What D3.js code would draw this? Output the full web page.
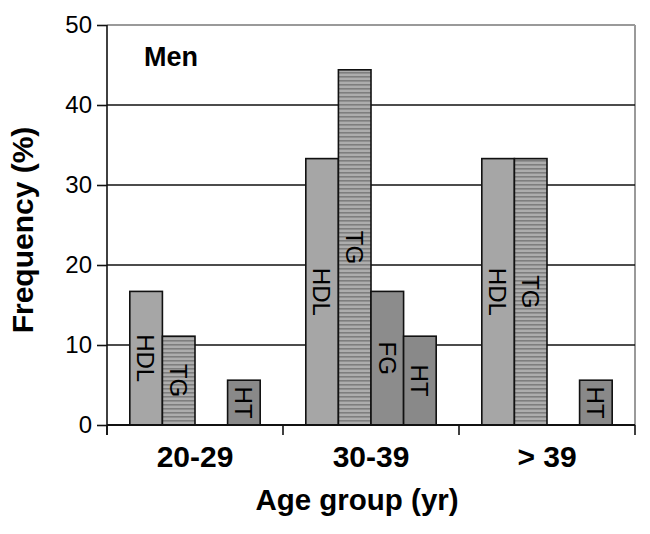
<!DOCTYPE html>
<html>
<head>
<meta charset="utf-8">
<script src="https://cdn.jsdelivr.net/npm/d3@7"></script>
<style>
  html, body { margin: 0; padding: 0; background: #fff; }
  svg { display: block; font-family: "Liberation Sans", Arial, sans-serif; }
</style>
</head>
<body>
<svg id="chart" width="650" height="534"></svg>
<script>
// ---- data ----
const categories = ["20-29", "30-39", "> 39"];
const seriesNames = ["HDL", "TG", "FG", "HT"];
const HDL = [16.7, 33.3, 33.3];
const TG  = [11.1, 44.4, 33.3];
const FG  = [0, 16.7, 0];
const HT  = [5.6, 11.1, 5.6];
const yTicks = [0, 10, 20, 30, 40, 50];
const yTitle = "Frequency (%)";
const xTitle = "Age group (yr)";
const panelLabel = "Men";

const seriesValues = { HDL, TG, FG, HT };

// ---- layout ----
const svg = d3.select("#chart");
const margin = { left: 107, right: 15, top: 25, bottom: 109 };
const W = 650, H = 534;
const x0 = margin.left, x1 = W - margin.right;
const yTop = margin.top, yBot = H - margin.bottom;

const x = d3.scaleBand().domain(categories).range([x0, x1]).paddingInner(0).paddingOuter(0);
const xs = d3.scaleBand().domain(seriesNames).range([0, x.bandwidth()]).paddingInner(0).paddingOuter(0.7);
const y = d3.scaleLinear().domain([0, 50]).range([yBot, yTop]);

// stripe pattern for TG
const defs = svg.append("defs");
const pat = defs.append("pattern").attr("id", "stripes")
  .attr("patternUnits", "userSpaceOnUse").attr("width", 8).attr("height", 4);
pat.append("rect").attr("width", 8).attr("height", 4).attr("fill", "#adadad");
pat.append("rect").attr("y", 0).attr("width", 8).attr("height", 1.6).attr("fill", "#7e7e7e");

const fills = { HDL: "#a6a6a6", TG: "url(#stripes)", FG: "#8c8c8c", HT: "#898989" };

// plot border (top & right grey)
svg.append("line").attr("x1", x0).attr("x2", x1).attr("y1", y(50)).attr("y2", y(50))
  .attr("stroke", "#9a9a9a").attr("stroke-width", 2);
svg.append("line").attr("x1", x1).attr("x2", x1).attr("y1", y(50)).attr("y2", y(0))
  .attr("stroke", "#9a9a9a").attr("stroke-width", 2);

// gridlines
svg.append("g").selectAll("line").data(yTicks.filter(d => d > 0 && d < 50)).join("line")
  .attr("x1", x0).attr("x2", x1).attr("y1", d => y(d)).attr("y2", d => y(d))
  .attr("stroke", "#111").attr("stroke-width", 1.6);

// bars
const groups = svg.append("g").selectAll("g").data(categories).join("g")
  .attr("transform", d => `translate(${x(d)},0)`);

groups.each(function(cat, ci) {
  const g = d3.select(this);
  seriesNames.forEach(s => {
    const v = seriesValues[s][ci];
    if (!v) return;
    g.append("rect")
      .attr("x", xs(s)).attr("width", xs.bandwidth())
      .attr("y", y(v)).attr("height", y(0) - y(v))
      .attr("fill", fills[s]).attr("stroke", "#111").attr("stroke-width", 1.6);
    const cx = xs(s) + xs.bandwidth() / 2;
    const cy = y(v / 2);
    g.append("text")
      .attr("transform", `translate(${cx},${cy}) rotate(90)`)
      .attr("text-anchor", "middle").attr("dy", "0.36em")
      .attr("font-size", 24).attr("fill", "#000")
      .text(s);
  });
});

// y axis
const yAxis = d3.axisLeft(y).tickValues(yTicks).tickSize(10).tickPadding(5).tickFormat(d3.format("d"));
const gy = svg.append("g").attr("transform", `translate(${x0},0)`).call(yAxis);
gy.select(".domain").remove();
gy.selectAll(".tick line").attr("stroke", "#111").attr("stroke-width", 1.6);
gy.selectAll(".tick text").attr("font-size", 24).attr("fill", "#000")
  .attr("font-family", "'Liberation Sans', Arial, sans-serif");
svg.append("line").attr("x1", x0).attr("x2", x0).attr("y1", y(50)).attr("y2", y(0) + 10)
  .attr("stroke", "#111").attr("stroke-width", 1.6);

// x axis
svg.append("line").attr("x1", x0).attr("x2", x1).attr("y1", y(0)).attr("y2", y(0))
  .attr("stroke", "#111").attr("stroke-width", 1.8);
const boundaries = categories.map(c => x(c)).concat([x1]);
svg.append("g").selectAll("line").data(boundaries).join("line")
  .attr("x1", d => d).attr("x2", d => d).attr("y1", y(0)).attr("y2", y(0) + 10)
  .attr("stroke", "#111").attr("stroke-width", 1.6);
svg.append("g").selectAll("text").data(categories).join("text")
  .attr("x", d => x(d) + x.bandwidth() / 2).attr("y", 467)
  .attr("text-anchor", "middle").attr("font-size", 30).attr("font-weight", "bold")
  .text(d => d);

// titles
svg.append("text").attr("x", 357).attr("y", 510).attr("text-anchor", "middle")
  .attr("font-size", 29.5).attr("font-weight", "bold").text(xTitle);
svg.append("text").attr("transform", `translate(33,${(y(0) + y(50)) / 2 + 5}) rotate(-90)`)
  .attr("text-anchor", "middle").attr("font-size", 30).attr("font-weight", "bold").text(yTitle);
svg.append("text").attr("x", 144).attr("y", 66)
  .attr("font-size", 27).attr("font-weight", "bold").text(panelLabel);
</script>
</body>
</html>
